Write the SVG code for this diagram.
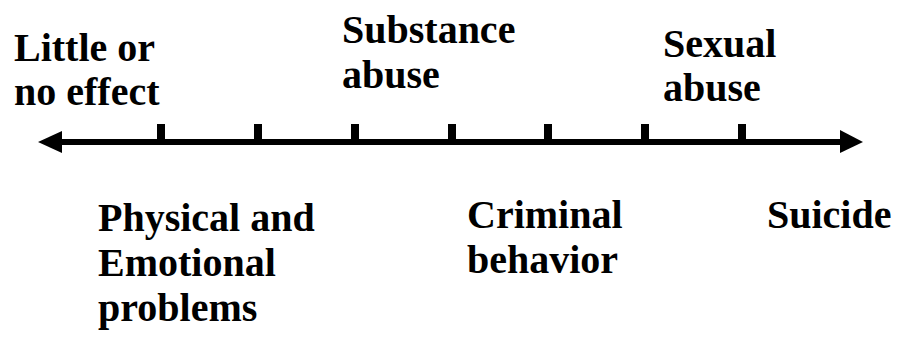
<svg xmlns="http://www.w3.org/2000/svg" width="899" height="337" viewBox="0 0 899 337">
<style>
text{font-family:"Liberation Serif","Times New Roman",serif;font-weight:bold;font-size:40px;fill:#000}
.tick{stroke:#000;stroke-width:8}
</style>
<rect width="899" height="337" fill="#fff"/>
<g id="connectors">
<line x1="55" y1="142" x2="848" y2="142" stroke="#000" stroke-width="6"/>
<polygon points="38,142 62,131 62,153" fill="#000"/>
<polygon points="863,142 840,130 840,153" fill="#000"/>
<line class="tick" x1="161" y1="124" x2="161" y2="142"/>
<line class="tick" x1="258" y1="124" x2="258" y2="142"/>
<line class="tick" x1="355" y1="124" x2="355" y2="142"/>
<line class="tick" x1="452" y1="124" x2="452" y2="142"/>
<line class="tick" x1="548" y1="124" x2="548" y2="142"/>
<line class="tick" x1="645" y1="124" x2="645" y2="142"/>
<line class="tick" x1="742" y1="124" x2="742" y2="142"/>
</g>
<g id="little"><text x="14" y="61">Little or</text><text x="14" y="105">no effect</text></g>
<g id="substance"><text x="342" y="43">Substance</text><text x="342" y="88">abuse</text></g>
<g id="sexual"><text x="663" y="57">Sexual</text><text x="663" y="101">abuse</text></g>
<g id="physical"><text x="98" y="231">Physical and</text><text x="98" y="276">Emotional</text><text x="98" y="321">problems</text></g>
<g id="criminal"><text x="467" y="228">Criminal</text><text x="467" y="273">behavior</text></g>
<g id="suicide"><text x="767" y="228">Suicide</text></g>
</svg>
